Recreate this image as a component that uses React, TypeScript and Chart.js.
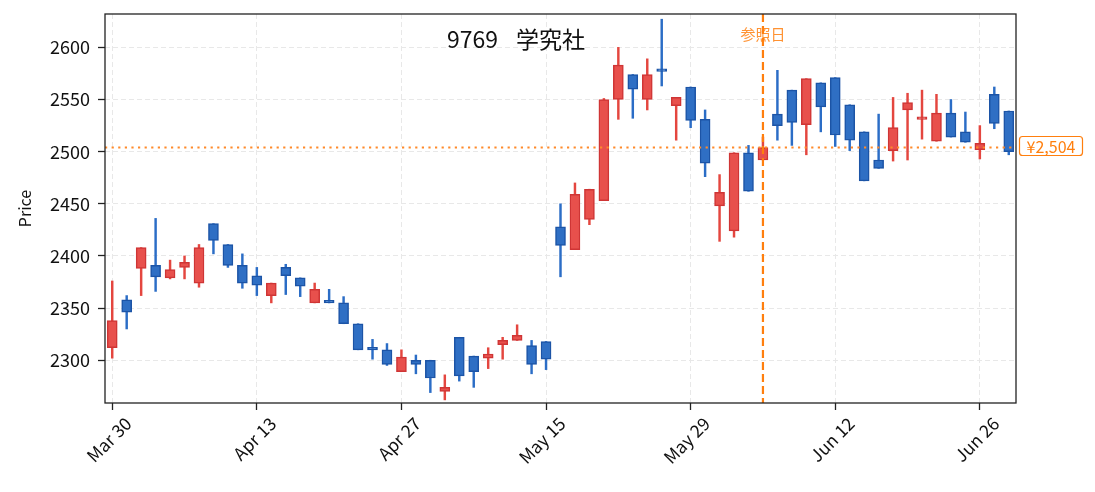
import React, { useEffect, useRef } from 'react';
import { Chart, registerables } from 'chart.js';

Chart.register(...registerables);

const dates = [
  'Mar 30', 'Mar 31', 'Apr 01', 'Apr 02', 'Apr 03', 'Apr 06', 'Apr 07', 'Apr 08', 'Apr 09', 'Apr 10',
  'Apr 13', 'Apr 14', 'Apr 15', 'Apr 16', 'Apr 17', 'Apr 20', 'Apr 21', 'Apr 22', 'Apr 23', 'Apr 24',
  'Apr 27', 'Apr 28', 'Apr 30', 'May 01', 'May 07', 'May 08', 'May 11', 'May 12', 'May 13', 'May 14',
  'May 15', 'May 18', 'May 19', 'May 20', 'May 21', 'May 22', 'May 25', 'May 26', 'May 27', 'May 28',
  'May 29', 'Jun 01', 'Jun 02', 'Jun 03', 'Jun 04', 'Jun 05', 'Jun 08', 'Jun 09', 'Jun 10', 'Jun 11',
  'Jun 12', 'Jun 15', 'Jun 16', 'Jun 17', 'Jun 18', 'Jun 19', 'Jun 22', 'Jun 23', 'Jun 24', 'Jun 25',
  'Jun 26', 'Jun 29', 'Jun 30',
];

const opens = [
  2312, 2358, 2388, 2391, 2379, 2389, 2374, 2431, 2411, 2391,
  2381, 2362, 2389, 2379, 2355, 2356, 2355, 2335, 2311, 2310,
  2289, 2300, 2300, 2270, 2322, 2304, 2302, 2315, 2319, 2314,
  2318, 2428, 2406, 2435, 2453, 2550, 2574, 2550, 2578, 2544,
  2562, 2531, 2448, 2424, 2499, 2492, 2536, 2559, 2526, 2566,
  2571, 2545, 2519, 2492, 2501, 2540, 2531, 2510, 2537, 2519,
  2502, 2555, 2539,
];
const highs = [
  2376, 2362, 2408, 2436, 2396, 2400, 2411, 2431, 2411, 2402,
  2389, 2374, 2392, 2379, 2374, 2368, 2361, 2335, 2320, 2316,
  2310, 2305, 2300, 2286, 2322, 2304, 2312, 2322, 2334, 2319,
  2318, 2450, 2470, 2464, 2551, 2600, 2574, 2589, 2627, 2552,
  2562, 2540, 2478, 2499, 2506, 2514, 2578, 2559, 2570, 2566,
  2571, 2545, 2519, 2536, 2552, 2556, 2559, 2555, 2550, 2538,
  2525, 2562, 2539,
];
const lows = [
  2302, 2330, 2362, 2366, 2378, 2378, 2370, 2402, 2389, 2369,
  2362, 2355, 2363, 2361, 2355, 2355, 2335, 2310, 2301, 2295,
  2289, 2287, 2269, 2262, 2280, 2274, 2292, 2301, 2319, 2287,
  2291, 2380, 2406, 2430, 2453, 2531, 2532, 2540, 2563, 2511,
  2523, 2476, 2414, 2418, 2462, 2492, 2511, 2506, 2497, 2519,
  2505, 2501, 2472, 2484, 2491, 2492, 2512, 2510, 2514, 2509,
  2493, 2522, 2497,
];
const closes = [
  2338, 2346, 2408, 2380, 2387, 2394, 2408, 2415, 2391, 2374,
  2372, 2374, 2381, 2371, 2368, 2355, 2335, 2310, 2310, 2296,
  2303, 2296, 2283, 2274, 2285, 2289, 2306, 2319, 2324, 2296,
  2301, 2410, 2459, 2464, 2550, 2583, 2560, 2574, 2577, 2552,
  2530, 2489, 2461, 2499, 2462, 2504, 2525, 2528, 2570, 2543,
  2516, 2511, 2472, 2484, 2523, 2547, 2532, 2537, 2514, 2509,
  2508, 2527, 2500,
];

const yTicks = [2300, 2350, 2400, 2450, 2500, 2550, 2600];
const refIndex = 45;
const refPrice = 2504;
const refLabel = '参照日';
const priceLabel = '¥2,504';
const title = '9769 学究社';

const FONT = '"Noto Sans CJK JP", "DejaVu Sans", sans-serif';
const ORANGE = '#ff7f0e';

const isUp = (i: number) => closes[i] >= opens[i];

const overlayPlugin = {
  id: 'overlay',
  afterDatasetsDraw(chart: any) {
    const { ctx, chartArea, scales } = chart;
    const x = scales.x.getPixelForValue(refIndex);
    const y = scales.y.getPixelForValue(refPrice);
    ctx.save();
    // reference date line
    ctx.strokeStyle = ORANGE;
    ctx.lineWidth = 2.2;
    ctx.setLineDash([8, 4]);
    ctx.beginPath();
    ctx.moveTo(x, chartArea.top);
    ctx.lineTo(x, chartArea.bottom);
    ctx.stroke();
    // reference price line
    ctx.strokeStyle = '#ff8a2a';
    ctx.lineWidth = 2;
    ctx.setLineDash([2.2, 4.4]);
    ctx.beginPath();
    ctx.moveTo(chartArea.left, y);
    ctx.lineTo(chartArea.right, y);
    ctx.stroke();
    ctx.setLineDash([]);

    ctx.fillStyle = ORANGE;
    ctx.globalAlpha = 0.85;
    ctx.font = '15px ' + FONT;
    ctx.textAlign = 'center';
    ctx.textBaseline = 'middle';
    ctx.fillText(refLabel, x, 34);
    ctx.globalAlpha = 1;

    // title: code and name drawn with a wider gap, as in the source
    const [code, name] = title.split(' ');
    ctx.fillStyle = '#111';
    ctx.font = '23px ' + FONT;
    ctx.textAlign = 'left';
    ctx.fillText(code, 447, 39);
    ctx.fillText(name, 516, 39);
    ctx.restore();
  },
  afterDraw(chart: any) {
    const { ctx, chartArea, scales } = chart;
    const y = scales.y.getPixelForValue(refPrice);
    ctx.save();
    ctx.strokeStyle = '#222';
    ctx.lineWidth = 1.3;
    ctx.strokeRect(chartArea.left, chartArea.top, chartArea.right - chartArea.left, chartArea.bottom - chartArea.top);

    const bx = chartArea.right + 3.5;
    const bw = 63;
    const bh = 19;
    const by = y - 1.5;
    ctx.fillStyle = '#fff';
    ctx.strokeStyle = ORANGE;
    ctx.lineWidth = 1.2;
    ctx.beginPath();
    ctx.roundRect(bx, by - bh / 2, bw, bh, 3);
    ctx.fill();
    ctx.stroke();
    ctx.fillStyle = ORANGE;
    ctx.font = '16px ' + FONT;
    ctx.textAlign = 'center';
    ctx.textBaseline = 'middle';
    ctx.fillText(priceLabel, bx + bw / 2, by + 0.5);
    ctx.restore();
  },
};

export default function App() {
  const canvasRef = useRef<HTMLCanvasElement>(null);
  const chartRef = useRef<Chart | null>(null);

  useEffect(() => {
    document.body.style.margin = '0';
    if (!canvasRef.current) return;
    if (chartRef.current) chartRef.current.destroy();

    const bodies = dates.map((_, i) => [Math.min(opens[i], closes[i]), Math.max(opens[i], closes[i])]);
    const wicks = dates.map((_, i) => [lows[i], highs[i]]);

    chartRef.current = new Chart(canvasRef.current, {
      type: 'bar',
      data: {
        labels: dates,
        datasets: [
          {
            label: 'body',
            data: bodies as any,
            grouped: false,
            barThickness: 10,
            minBarLength: 2.5,
            borderWidth: 1.5,
            borderSkipped: false,
            backgroundColor: dates.map((_, i) => (isUp(i) ? '#e8504c' : '#2f6fc4')),
            borderColor: dates.map((_, i) => (isUp(i) ? '#cf3535' : '#1c54a6')),
          },
          {
            label: 'wick',
            data: wicks as any,
            grouped: false,
            barThickness: 1.8,
            borderWidth: 0,
            backgroundColor: dates.map((_, i) => (isUp(i) ? '#e4463f' : '#2b6dc6')),
          },
        ],
      },
      options: {
        responsive: true,
        maintainAspectRatio: false,
        animation: false,
        layout: { padding: { top: 14, right: 79, left: 0, bottom: 0 } },
        font: { family: FONT },
        plugins: {
          legend: { display: false },
          tooltip: { enabled: false },
        },
        scales: {
          x: {
            type: 'category',
            offset: true,
            afterFit: (s: any) => { s.height = 89; s.paddingLeft = 0; s.paddingRight = 0; },
            grid: {
              offset: false,
              color: '#e8e8e8',
              lineWidth: 1,
              tickLength: 7,
              tickColor: '#222',
              tickWidth: 1.3,
            },
            border: { display: false, dash: [5, 3] },
            ticks: {
              autoSkip: false,
              minRotation: 45,
              maxRotation: 45,
              labelOffset: 16,
              padding: 3,
              color: '#111',
              font: { family: FONT, size: 17.5 },
              callback: (_v: any, i: number) => (i % 10 === 0 ? dates[i] : null),
            },
          },
          y: {
            min: 2259,
            max: 2632,
            afterFit: (s: any) => { s.width = 105; s.paddingTop = 0; s.paddingBottom = 0; },
            grid: {
              color: '#e8e8e8',
              lineWidth: 1,
              tickLength: 7,
              tickColor: '#222',
              tickWidth: 1.3,
            },
            border: { display: false, dash: [5, 3] },
            afterBuildTicks: (s: any) => { s.ticks = yTicks.map((v) => ({ value: v })); },
            ticks: {
              padding: 8,
              color: '#111',
              font: { family: FONT, size: 18 },
              callback: (v: any) => String(v),
            },
            title: {
              display: true,
              text: 'Price',
              color: '#111',
              font: { family: FONT, size: 16 },
              padding: { top: 15, bottom: 0 },
            },
          },
        },
      },
      plugins: [overlayPlugin],
    } as any);

    return () => {
      if (chartRef.current) {
        chartRef.current.destroy();
        chartRef.current = null;
      }
    };
  }, []);

  return (
    <div style={{ width: 1095, height: 492, position: 'relative', background: '#fff' }}>
      <canvas ref={canvasRef}></canvas>
    </div>
  );
}
